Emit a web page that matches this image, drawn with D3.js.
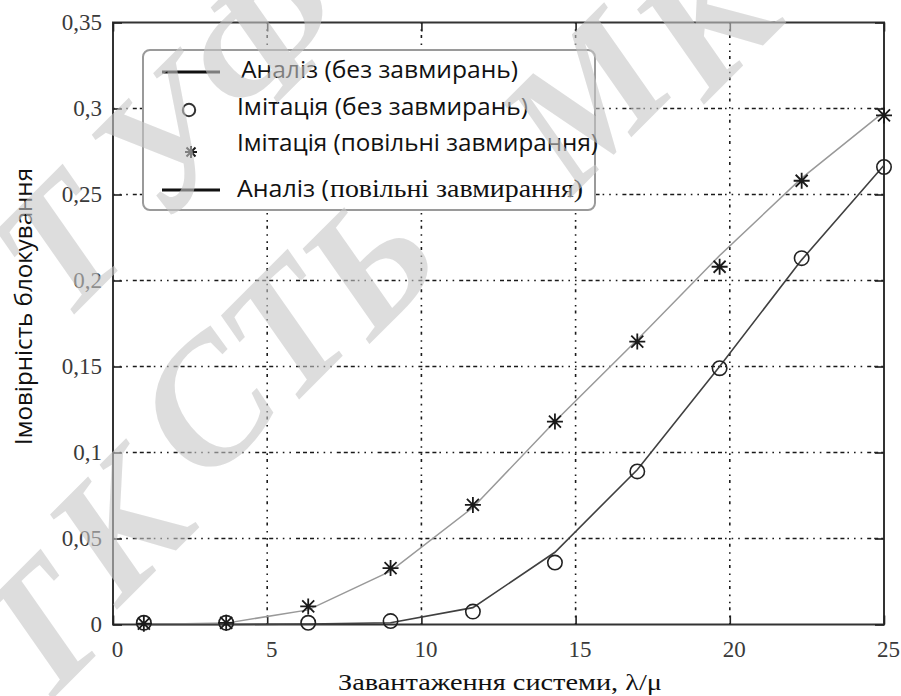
<!DOCTYPE html>
<html>
<head>
<meta charset="utf-8">
<script src="https://cdn.jsdelivr.net/npm/d3@7/dist/d3.min.js"></script>
<style>
  html, body { margin: 0; padding: 0; background: #fff; }
  svg { display: block; }
</style>
</head>
<body>
<svg id="chart" width="901" height="696"></svg>
<script>
// System load λ/μ at which the blocking probability was evaluated
const loads = [1, 3.67, 6.33, 9, 11.67, 14.33, 17, 19.67, 22.33, 25];

// Simulation results
const simNoFading   = [0.001, 0.001, 0.001, 0.002, 0.0075, 0.036, 0.089, 0.149, 0.213, 0.266];
const simSlowFading = [0.0005, 0.001, 0.0105, 0.0328, 0.0695, 0.118, 0.1645, 0.208, 0.258, 0.296];

// Analytical curves
const anNoFading   = [0, 0, 0.0003, 0.001, 0.0098, 0.042, 0.09, 0.15, 0.212, 0.267];
const anSlowFading = [0, 0.0008, 0.0085, 0.031, 0.068, 0.118, 0.1655, 0.2145, 0.2595, 0.298];

// Axis ticks
const xTicks = [0, 5, 10, 15, 20, 25];
const yTicks = [0, 0.05, 0.1, 0.15, 0.2, 0.25, 0.3, 0.35];

// Legend entries
const legendLabels = [
  "Аналіз (без завмирань)",
  "Імітація (без завмирань)",
  "Імітація (повільні завмирання)",
  "Аналіз (",
  "повільні завмирання)"
];

const xTitle = "Завантаження системи, λ/μ";
const yTitle = "Імовірність блокування";

// Watermark glyphs with their centres
const watermarkGlyphs = ["Т", "У", "Ф", "Т", "К", "С", "Т", "Ь", "М", "К"];
const watermarkX = [60, 165, 262, 38, 118, 205, 285, 368, 585, 705];
const watermarkY = [245, 140, 35, 630, 525, 405, 330, 262, 100, 20];

const SANS = "'Open Sans', 'Noto Sans', sans-serif";
const SERIF = "'Liberation Serif', 'DejaVu Serif', serif";

const svg = d3.select("#chart");

const x = d3.scaleLinear().domain([0, 25]).range([113, 884]);
const y = d3.scaleLinear().domain([0, 0.35]).range([624.5, 22.5]);

const fmt = d => d === 0 ? "0" : String(+d.toFixed(2)).replace(".", ",");

// Grid
const grid = svg.append("g").attr("stroke", "#1a1a1a").attr("stroke-width", 1.6).attr("fill", "none");
grid.selectAll("line.h").data(yTicks.slice(1, -1)).join("line")
  .attr("class", "h")
  .attr("x1", x(0)).attr("x2", x(25))
  .attr("y1", d => y(d)).attr("y2", d => y(d))
  .attr("stroke-dasharray", "1.6,5,1.6,5,1.6,5,4,3,4,3,4,3");
grid.selectAll("line.v").data(xTicks.slice(1, -1)).join("line")
  .attr("class", "v")
  .attr("y1", y(0)).attr("y2", y(0.35))
  .attr("x1", d => x(d)).attr("x2", d => x(d))
  .attr("stroke-dasharray", "1.6,5.5,1.6,5.5,3,4");

// Frame
svg.append("rect")
  .attr("x", x(0)).attr("y", y(0.35))
  .attr("width", x(25) - x(0)).attr("height", y(0) - y(0.35))
  .attr("fill", "none").attr("stroke", "#333").attr("stroke-width", 2);

// Axes with inward ticks
function styleAxis(g) {
  g.select(".domain").remove();
  g.selectAll(".tick line").attr("stroke", "#222").attr("stroke-width", 1.6);
  g.selectAll("text").attr("font-family", SERIF).attr("font-size", 23).attr("fill", "#3a3a3a");
}
svg.append("g").attr("transform", `translate(0,${y(0)})`)
  .call(d3.axisBottom(x).tickValues(xTicks).tickSize(-9).tickPadding(16).tickFormat(fmt))
  .call(styleAxis)
  .call(g => g.selectAll("text").attr("dx", 4));
svg.append("g").attr("transform", `translate(0,${y(0.35)})`)
  .call(d3.axisTop(x).tickValues(xTicks).tickSize(-9).tickFormat(""))
  .call(styleAxis);
svg.append("g").attr("transform", `translate(${x(0)},0)`)
  .call(d3.axisLeft(y).tickValues(yTicks).tickSize(-9).tickPadding(11).tickFormat(fmt))
  .call(styleAxis);
svg.append("g").attr("transform", `translate(${x(25)},0)`)
  .call(d3.axisRight(y).tickValues(yTicks).tickSize(-9).tickFormat(""))
  .call(styleAxis);

// Curves
const line = d3.line().x((d, i) => x(loads[i])).y(d => y(d));
svg.append("path").datum(anSlowFading).attr("d", line)
  .attr("fill", "none").attr("stroke", "#999").attr("stroke-width", 1.5);
svg.append("path").datum(anNoFading).attr("d", line)
  .attr("fill", "none").attr("stroke", "#404040").attr("stroke-width", 1.6);

// Markers
function star(g, cx, cy, r, w) {
  const a = r * 0.75;
  g.append("path")
    .attr("d", `M${cx - r},${cy}H${cx + r}M${cx},${cy - r}V${cy + r}` +
               `M${cx - a},${cy - a}L${cx + a},${cy + a}M${cx - a},${cy + a}L${cx + a},${cy - a}`)
    .attr("stroke", "#1a1a1a").attr("stroke-width", w).attr("fill", "none");
}
svg.append("g").selectAll("circle").data(simNoFading).join("circle")
  .attr("cx", (d, i) => x(loads[i])).attr("cy", d => y(d)).attr("r", 7.2)
  .attr("fill", "none").attr("stroke", "#222").attr("stroke-width", 1.6);
const stars = svg.append("g");
simSlowFading.forEach((d, i) => star(stars, x(loads[i]), y(d), 8, 1.8));

// Legend
const lg = svg.append("g");
lg.append("rect").attr("x", 143).attr("y", 50).attr("width", 452).attr("height", 160)
  .attr("rx", 7).attr("fill", "#fff").attr("stroke", "#9a9a9a").attr("stroke-width", 2);
lg.append("line").attr("x1", 162).attr("x2", 220).attr("y1", 72).attr("y2", 72)
  .attr("stroke", "#111").attr("stroke-width", 3.2);
lg.append("circle").attr("cx", 189).attr("cy", 110).attr("r", 6.2)
  .attr("fill", "none").attr("stroke", "#333").attr("stroke-width", 2);
star(lg, 191, 152, 6, 2);
lg.append("line").attr("x1", 162).attr("x2", 220).attr("y1", 190).attr("y2", 190)
  .attr("stroke", "#111").attr("stroke-width", 3.2);

function fitText(sel, len) {
  sel.attr("textLength", len).attr("lengthAdjust", "spacingAndGlyphs");
}
lg.append("text").attr("x", 241).attr("y", 78).text(legendLabels[0])
  .attr("font-family", SANS).attr("font-size", 23).attr("fill", "#111").call(fitText, 277);
lg.append("text").attr("x", 237).attr("y", 115).text(legendLabels[1])
  .attr("font-family", SANS).attr("font-size", 23).attr("fill", "#111").call(fitText, 291);
lg.append("text").attr("x", 237).attr("y", 151).text(legendLabels[2])
  .attr("font-family", SANS).attr("font-size", 23).attr("fill", "#111").call(fitText, 361);
lg.append("text").attr("x", 237).attr("y", 197).text(legendLabels[3])
  .attr("font-family", SANS).attr("font-size", 23).attr("fill", "#111").call(fitText, 92);
lg.append("text").attr("x", 330).attr("y", 197).text(legendLabels[4])
  .attr("font-family", SERIF).attr("font-size", 25).attr("fill", "#111").call(fitText, 253);

// Axis titles
svg.append("text").attr("x", 338).attr("y", 690).text(xTitle)
  .attr("font-family", SERIF).attr("font-size", 24).attr("fill", "#111").call(fitText, 324);
svg.append("text").attr("transform", "translate(32,445) rotate(-90)").text(yTitle)
  .attr("font-family", SANS).attr("font-size", 24).attr("fill", "#111").call(fitText, 277);

// Semi-transparent watermark laid over the chart
svg.append("g")
  .attr("font-family", SERIF).attr("font-style", "italic").attr("font-weight", "bold")
  .attr("font-size", 175).attr("fill", "rgb(198,198,198)").attr("fill-opacity", 0.6)
  .attr("text-anchor", "middle").attr("dominant-baseline", "central")
  .style("pointer-events", "none")
  .selectAll("text").data(watermarkGlyphs).join("text")
  .attr("transform", (d, i) => `translate(${watermarkX[i]},${watermarkY[i]}) rotate(-45)`)
  .text(d => d);
</script>
</body>
</html>
